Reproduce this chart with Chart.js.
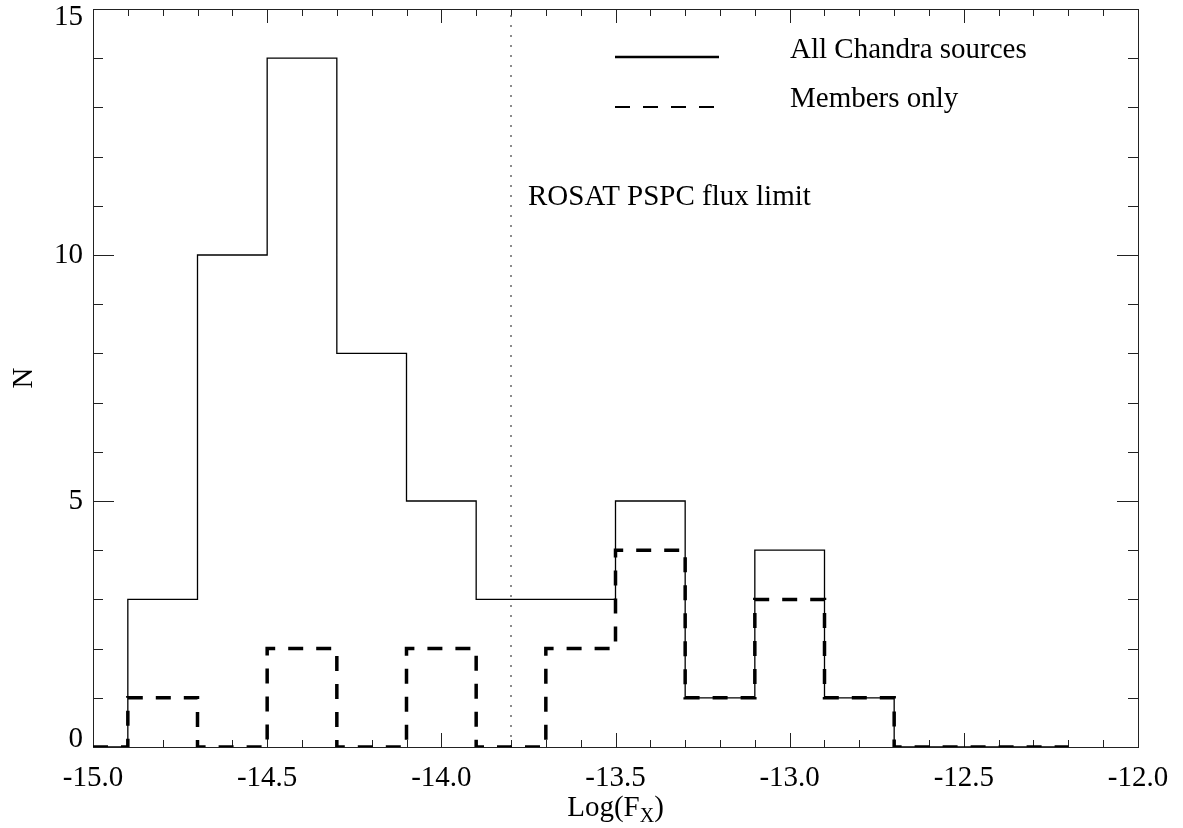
<!DOCTYPE html>
<html>
<head>
<meta charset="utf-8">
<title>Log(Fx) histogram</title>
<script src="https://cdn.jsdelivr.net/npm/chart.js@4.4.1/dist/chart.umd.min.js"></script>
<style>
  html, body { margin: 0; padding: 0; background: #fff; }
  #wrap { width: 1183px; height: 828px; position: relative; }
</style>
</head>
<body>
<div id="wrap"><canvas id="chart"></canvas></div>
<script>
// bin edges (left edge of each bin, last entry closes the final bin)
const binEdges = [-15.0, -14.9, -14.7, -14.5, -14.3, -14.1, -13.9, -13.7, -13.5, -13.3, -13.1, -12.9, -12.7, -12.2];
const allSources = [0, 3, 10, 14, 8, 5, 3, 3, 5, 1, 4, 1, 0];
const membersOnly = [0, 1, 0, 2, 0, 2, 0, 2, 4, 1, 3, 1, 0];
const fluxLimit = -13.8;

const xTicks = [-15.0, -14.5, -14.0, -13.5, -13.0, -12.5, -12.0];
const yTicks = [0, 5, 10, 15];
const seriesNames = ["All Chandra sources", "Members only"];
const fluxLabel = "ROSAT PSPC flux limit";

const FONT = "Liberation Serif, Times New Roman, serif";

// turn counts into step points
function steps(counts) {
    const pts = counts.map((c, i) => ({ x: binEdges[i], y: c }));
    pts.push({ x: binEdges[binEdges.length - 1], y: counts[counts.length - 1] });
    return pts;
}

// frame, inward ticks, y labels, titles, legend
const idlAxes = {
    id: "idlAxes",
    beforeDatasetsDraw(chart) {
        const { ctx, chartArea: a, scales } = chart;
        const xs = scales.x, ys = scales.y;
        ctx.save();
        ctx.strokeStyle = "#222";
        ctx.lineWidth = 1;
        ctx.strokeRect(a.left + 0.5, a.top + 0.5, a.right - a.left, a.bottom - a.top);
        ctx.beginPath();
        for (let i = 0; i <= 30; i++) {
            const v = -15 + i * 0.1;
            const px = Math.round(xs.getPixelForValue(v)) + 0.5;
            const len = i % 5 === 0 ? 14 : 7;
            ctx.moveTo(px, a.bottom); ctx.lineTo(px, a.bottom - len);
            ctx.moveTo(px, a.top); ctx.lineTo(px, a.top + len);
        }
        for (let v = 0; v <= 15; v++) {
            const py = Math.round(ys.getPixelForValue(v)) + 0.5;
            const len = v % 5 === 0 ? 21 : 10;
            ctx.moveTo(a.left, py); ctx.lineTo(a.left + len, py);
            ctx.moveTo(a.right, py); ctx.lineTo(a.right - len, py);
        }
        ctx.stroke();
        ctx.restore();
    },
    afterDraw(chart) {
        const { ctx, chartArea: a, scales } = chart;
        const ys = scales.y;
        ctx.save();
        ctx.fillStyle = "#000";
        ctx.font = "29px " + FONT;

        // y tick labels, kept inside the axis length like IDL does
        ctx.textAlign = "right";
        ctx.textBaseline = "middle";
        yTicks.forEach(t => {
            let py = ys.getPixelForValue(t);
            py = Math.min(Math.max(py, a.top + 8), a.bottom - 8);
            ctx.fillText(String(t), a.left - 10, py);
        });

        // y title
        ctx.save();
        ctx.translate(32, (a.top + a.bottom) / 2);
        ctx.rotate(-Math.PI / 2);
        ctx.textAlign = "center";
        ctx.textBaseline = "alphabetic";
        ctx.fillText("N", 0, 0);
        ctx.restore();

        // x title Log(F_X)
        ctx.textAlign = "left";
        ctx.textBaseline = "alphabetic";
        const main1 = "Log(F", sub = "X", main2 = ")";
        const w1 = ctx.measureText(main1).width;
        const w3 = ctx.measureText(main2).width;
        ctx.font = "20px " + FONT;
        const w2 = ctx.measureText(sub).width;
        const cx = (a.left + a.right) / 2;
        let x0 = cx - (w1 + w2 + w3) / 2;
        const base = 816;
        ctx.font = "29px " + FONT;
        ctx.fillText(main1, x0, base);
        ctx.font = "20px " + FONT;
        ctx.fillText(sub, x0 + w1, base + 6);
        ctx.font = "29px " + FONT;
        ctx.fillText(main2, x0 + w1 + w2, base);

        // legend
        ctx.strokeStyle = "#000";
        ctx.lineWidth = 2.5;
        ctx.beginPath();
        ctx.moveTo(615, 57); ctx.lineTo(719, 57);
        ctx.stroke();
        ctx.lineWidth = 2;
        ctx.setLineDash([15, 13]);
        ctx.beginPath();
        ctx.moveTo(615, 107); ctx.lineTo(719, 107);
        ctx.stroke();
        ctx.setLineDash([]);
        ctx.fillText(seriesNames[0], 790, 58);
        ctx.fillText(seriesNames[1], 790, 107);

        ctx.fillText(fluxLabel, 528, 205);
        ctx.restore();
    }
};

new Chart(document.getElementById("chart"), {
    type: "line",
    data: {
        datasets: [
            {
                label: seriesNames[0],
                data: steps(allSources),
                stepped: "before",
                borderColor: "#000",
                borderWidth: 1.3,
                pointRadius: 0,
                fill: false,
            },
            {
                label: seriesNames[1],
                data: steps(membersOnly),
                stepped: "before",
                borderColor: "#000",
                borderWidth: 3.5,
                borderDash: [15, 13],
                pointRadius: 0,
                fill: false,
            },
            {
                label: fluxLabel,
                data: [{ x: fluxLimit, y: 0 }, { x: fluxLimit, y: 15 }],
                borderColor: "#666",
                borderWidth: 1.5,
                borderDash: [2, 8],
                pointRadius: 0,
                fill: false,
            },
        ],
    },
    options: {
        responsive: true,
        maintainAspectRatio: false,
        animation: false,
        events: [],
        layout: { padding: { top: 9, right: 45, left: 0, bottom: 0 } },
        plugins: {
            legend: { display: false },
            tooltip: { enabled: false },
        },
        scales: {
            x: {
                type: "linear",
                min: -15,
                max: -12,
                afterBuildTicks: (scale) => {
                    scale.ticks = xTicks.map(v => ({ value: v }));
                },
                afterFit: (scale) => { scale.height = 81; },
                ticks: {
                    padding: 14,
                    maxRotation: 0,
                    color: "#000",
                    font: { family: FONT, size: 29 },
                    callback: (v) => Number(v).toFixed(1),
                },
                grid: { display: false, drawTicks: false },
                border: { display: false },
            },
            y: {
                type: "linear",
                min: 0,
                max: 15,
                afterFit: (scale) => { scale.width = 93; },
                ticks: { display: false },
                grid: { display: false, drawTicks: false },
                border: { display: false },
            },
        },
    },
    plugins: [idlAxes],
});
</script>
</body>
</html>
